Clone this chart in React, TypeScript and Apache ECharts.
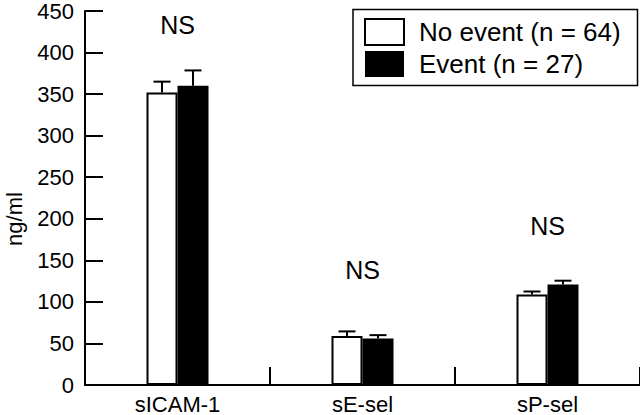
import React, { useEffect, useRef } from "react";
import * as echarts from "echarts";

const categories = ["sICAM-1", "sE-sel", "sP-sel"];
const noEventName = "No event (n = 64)";
const eventName = "Event (n = 27)";
const noEventMean = [352, 59, 109];
const noEventUpper = [365, 64.5, 112.5];
const eventMean = [360, 56, 121];
const eventUpper = [378.5, 60, 125.5];
const nsText = ["NS", "NS", "NS"];
const nsLevel = [433, 138, 191];
const yTicks = { min: 0, max: 450, interval: 50 };

const FONT = "'Liberation Sans', Arial, Helvetica, sans-serif";
const BAR_W = 31;

export default function App() {
  const ref = useRef<HTMLDivElement>(null);
  useEffect(() => {
    if (!ref.current) return;
    const chart = echarts.init(ref.current, null, { renderer: "svg" });
    const errData: any[] = [];
    categories.forEach((_, i) => {
      errData.push([i, noEventMean[i], noEventUpper[i], -1]);
      errData.push([i, eventMean[i], eventUpper[i], 1]);
    });
    const nsData = categories.map((_, i) => [i, nsLevel[i], nsText[i]]);
    chart.setOption({
      animation: false,
      backgroundColor: "#fff",
      textStyle: { fontFamily: FONT, color: "#000" },
      grid: { left: 85, right: 0, top: 7.5, bottom: 28.3, containLabel: false },
      legend: {
        orient: "vertical",
        left: 353,
        top: 9,
        itemWidth: 39,
        itemHeight: 26,
        itemGap: 5,
        padding: [9, 10, 10, 11],
        borderWidth: 0,
        selectedMode: false,
        textStyle: { fontSize: 26, fontFamily: FONT, color: "#000", padding: [0, 0, 0, 10] },
        data: [
          { name: noEventName, icon: "rect", itemStyle: { color: "#fff", borderColor: "#000", borderWidth: 2 } },
          { name: eventName, icon: "rect", itemStyle: { color: "#000" } },
        ],
      },
      xAxis: {
        type: "category",
        data: categories,
        axisLine: { lineStyle: { color: "#000", width: 2 } },
        axisTick: { show: true, inside: true, length: 18, lineStyle: { color: "#000", width: 2 } },
        axisLabel: { fontSize: 22, color: "#000", margin: 8, fontFamily: FONT },
        splitLine: { show: false },
      },
      yAxis: {
        type: "value",
        min: yTicks.min,
        max: yTicks.max,
        interval: yTicks.interval,
        axisLine: { show: true, lineStyle: { color: "#000", width: 2 } },
        axisTick: { show: true, inside: true, length: 18, lineStyle: { color: "#000", width: 2 } },
        axisLabel: { fontSize: 22, color: "#000", margin: 11, fontFamily: FONT },
        splitLine: { show: false },
      },
      graphic: [
        {
          type: "rect",
          shape: { x: 353, y: 9.5, width: 284.5, height: 76 },
          style: { fill: "none", stroke: "#000", lineWidth: 1.5 },
          z: 10,
        },
        {
          type: "text",
          x: 14,
          y: 219,
          rotation: Math.PI / 2,
          style: {
            text: "ng/ml",
            fontSize: 22,
            fontFamily: FONT,
            fill: "#000",
            align: "center",
            verticalAlign: "middle",
          },
        },
      ],
      series: [
        {
          name: noEventName,
          type: "bar",
          barWidth: BAR_W,
          barGap: "0%",
          data: noEventMean,
          itemStyle: { color: "#fff", borderColor: "#000", borderWidth: 2 },
        },
        {
          name: eventName,
          type: "bar",
          barWidth: BAR_W,
          barGap: "0%",
          data: eventMean,
          itemStyle: { color: "#000" },
        },
        {
          type: "custom",
          name: "err",
          data: errData,
          z: 5,
          renderItem: (params: any, api: any) => {
            const idx = api.value(0);
            const sign = api.value(3);
            const base = api.coord([idx, api.value(1)]);
            const top = api.coord([idx, api.value(2)]);
            const x = base[0] + sign * (BAR_W / 2);
            const cap = 8.5;
            const style = { stroke: "#000", lineWidth: 2 };
            return {
              type: "group",
              children: [
                { type: "line", shape: { x1: x, y1: base[1], x2: x, y2: top[1] }, style },
                { type: "line", shape: { x1: x - cap, y1: top[1], x2: x + cap, y2: top[1] }, style },
              ],
            };
          },
        },
        {
          type: "custom",
          name: "ns",
          data: nsData,
          z: 6,
          renderItem: (params: any, api: any) => {
            const idx = api.value(0);
            const p = api.coord([idx, api.value(1)]);
            return {
              type: "text",
              x: p[0],
              y: p[1],
              style: {
                text: nsText[params.dataIndex],
                fontSize: 25,
                fontFamily: FONT,
                fill: "#000",
                align: "center",
                verticalAlign: "middle",
              },
            };
          },
        },
      ],
    });
    return () => chart.dispose();
  }, []);
  return (
    <div
      ref={ref}
      style={{ position: "fixed", left: 0, top: 0, width: 640, height: 415 }}
    />
  );
}
